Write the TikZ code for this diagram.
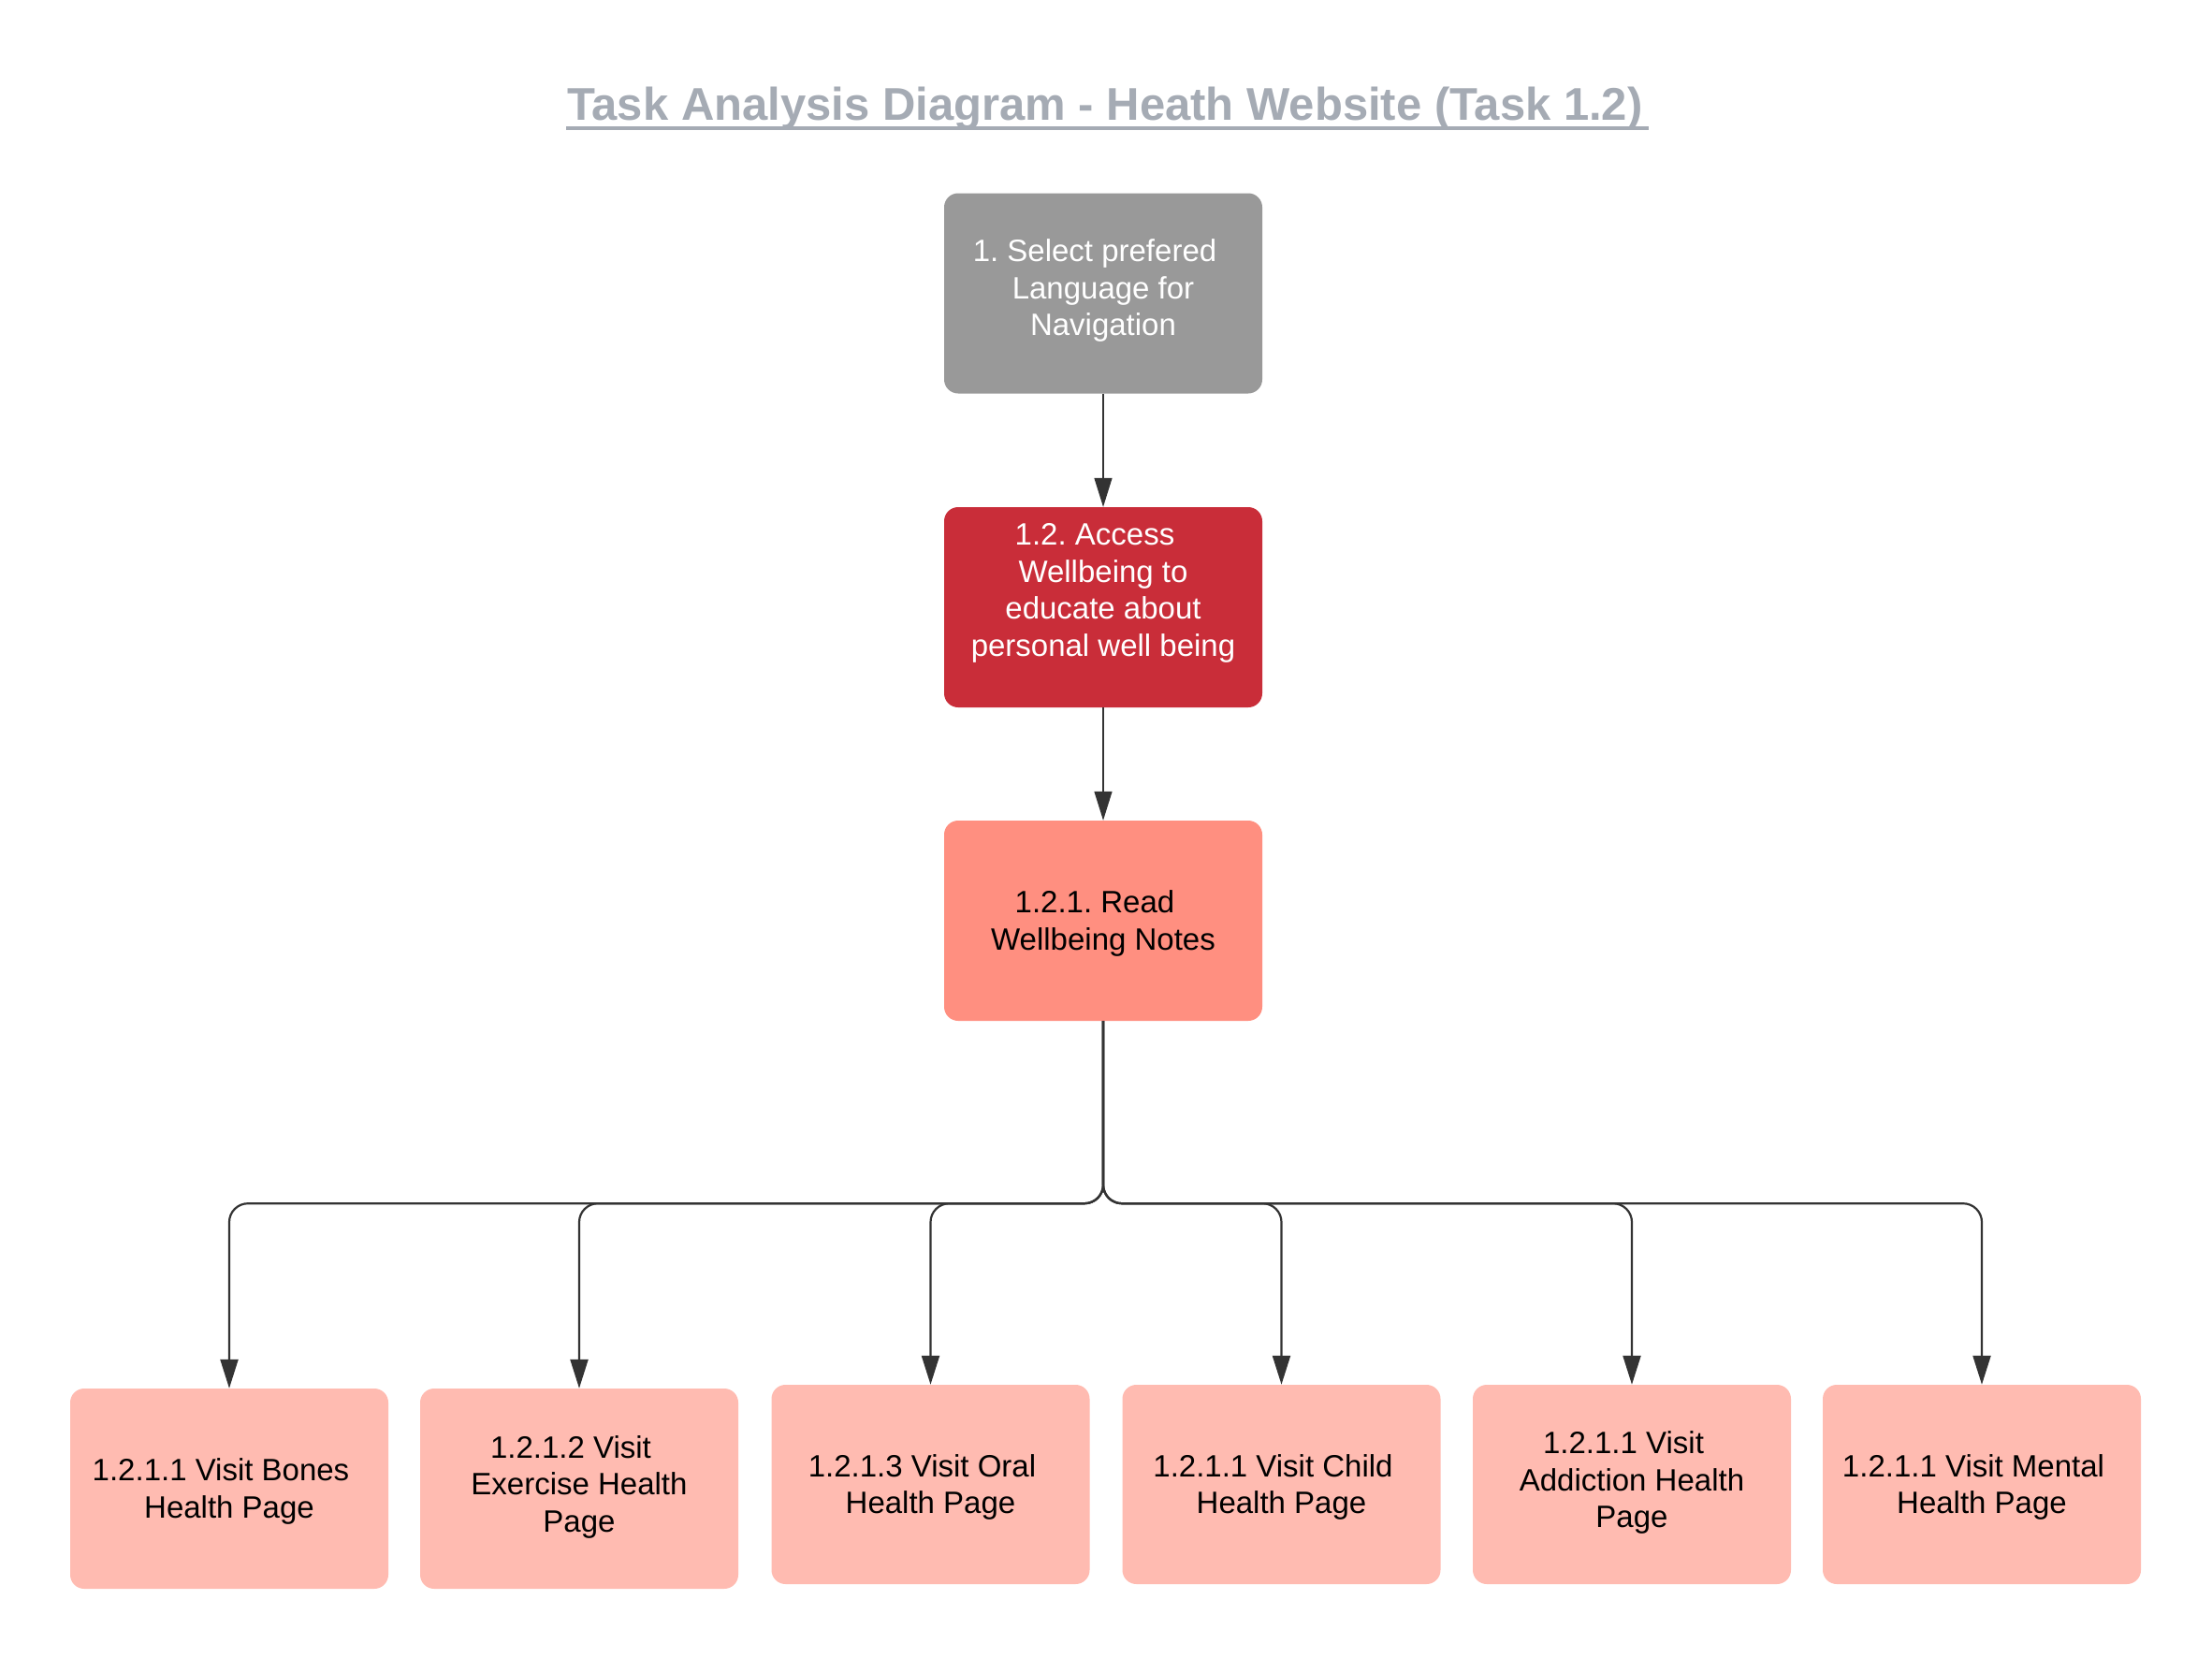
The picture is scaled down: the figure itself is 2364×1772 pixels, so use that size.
\documentclass[tikz,border=0pt]{standalone}
\usepackage{fontspec}
\setmainfont{Liberation Sans}
\usetikzlibrary{arrows.meta}
\frenchspacing

\definecolor{boxgray}{HTML}{999999}
\definecolor{boxred}{HTML}{C92D39}
\definecolor{boxsalmon}{HTML}{FF8F80}
\definecolor{boxpink}{HTML}{FFBBB1}
\definecolor{linedark}{HTML}{333333}
\definecolor{titlegray}{HTML}{A5ABB4}

% trailing gap kept after the first line of a label
\newcommand{\trailgap}{\makebox[18pt]{}}

\begin{document}
\begin{tikzpicture}[x=1pt,y=-1pt,
  taskbox/.style={rectangle,rounded corners=15pt,minimum width=340pt,
    minimum height=214pt,inner sep=0pt,draw=none},
  tasktext/.style={align=center,inner sep=0pt,
    font=\fontsize{33pt}{39.5pt}\selectfont},
  conn/.style={draw=linedark,line width=1.4pt,
    -{Triangle[length=31pt,width=19pt,fill=linedark]}},
  branch/.style={conn,line width=2.2pt,rounded corners=20pt}]

\useasboundingbox (0,0) rectangle (2364,1772);
\fill[white] (0,0) rectangle (2364,1772);

% title
\node[anchor=base,inner sep=0pt,text=titlegray,
      font=\fontsize{49pt}{58pt}\selectfont\bfseries] (title) at (1181,128)
  {Task Analysis Diagram - Heath Website (Task 1.2)};
\draw[titlegray,line width=3.5pt]
  ([yshift=-9pt,xshift=-1pt]title.base west) -- ([yshift=-9pt,xshift=6pt]title.base east);

% main chain
\node[taskbox,fill=boxgray] (n1) at (1179,313.5) {};
\node[tasktext,text=white] (t1) at ([yshift=3pt]n1.center)
  {1. Select prefered\trailgap\\Language for\\Navigation};

\node[taskbox,fill=boxred] (n2) at (1179,649) {};
\node[tasktext,text=white] (t2) at ([yshift=15pt]n2.center)
  {1.2. Access\trailgap\\Wellbeing to\\educate about\\personal well being};

\node[taskbox,fill=boxsalmon] (n3) at (1179,984) {};
\node[tasktext,text=black] (t3) at ([yshift=-3pt]n3.center)
  {1.2.1. Read\trailgap\\Wellbeing Notes};

% sub-tasks
\node[taskbox,fill=boxpink] (b1) at (245,1591) {};
\node[tasktext] (s1) at ([yshift=-3pt]b1.center) {1.2.1.1 Visit Bones\trailgap\\Health Page};

\node[taskbox,fill=boxpink] (b2) at (619,1591) {};
\node[tasktext] (s2) at ([yshift=2pt]b2.center) {1.2.1.2 Visit\trailgap\\Exercise Health\\Page};

\node[taskbox,fill=boxpink,minimum height=213pt] (b3) at (994.5,1586.5) {};
\node[tasktext] (s3) at ([yshift=-3pt]b3.center) {1.2.1.3 Visit Oral\trailgap\\Health Page};

\node[taskbox,fill=boxpink,minimum height=213pt] (b4) at (1369.5,1586.5) {};
\node[tasktext] (s4) at ([yshift=-3pt]b4.center) {1.2.1.1 Visit Child\trailgap\\Health Page};

\node[taskbox,fill=boxpink,minimum height=213pt] (b5) at (1744,1586.5) {};
\node[tasktext] (s5) at ([yshift=2pt]b5.center) {1.2.1.1 Visit\trailgap\\Addiction Health\\Page};

\node[taskbox,fill=boxpink,minimum height=213pt] (b6) at (2118,1586.5) {};
\node[tasktext] (s6) at ([yshift=-3pt]b6.center) {1.2.1.1 Visit Mental\trailgap\\Health Page};

% connectors
\draw[conn] (n1.south) -- (n2.north);
\draw[conn] (n2.south) -- (n3.north);

\foreach \b in {b1,b2,b3,b4,b5,b6}
  \draw[branch] (n3.south) -- ++(0,195) -| (\b.north);

\end{tikzpicture}
\end{document}
